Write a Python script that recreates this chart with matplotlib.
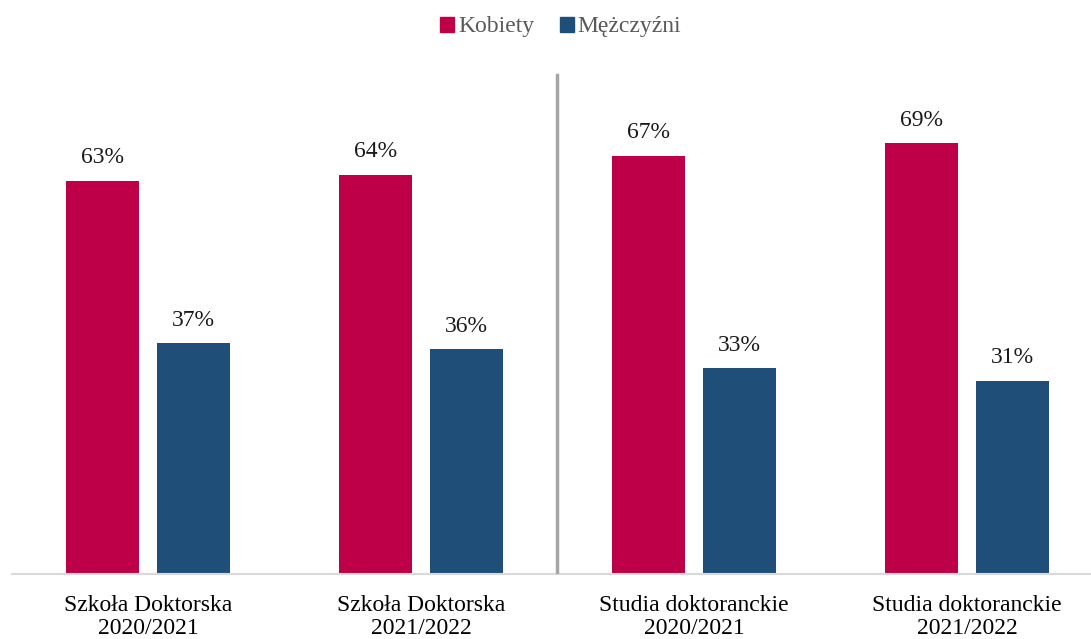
import matplotlib
matplotlib.use("Agg")
import matplotlib.pyplot as plt
from matplotlib.patches import Patch
import numpy as np

categories = ["Szkoła Doktorska\n2020/2021", "Szkoła Doktorska\n2021/2022",
              "Studia doktoranckie\n2020/2021", "Studia doktoranckie\n2021/2022"]
series_names = ["Kobiety", "Mężczyźni"]
kobiety = [63, 64, 67, 69]
mezczyzni = [37, 36, 33, 31]
colors = ["#BE0048", "#1F4E79"]

plt.rcParams['font.family'] = ['Liberation Serif', 'DejaVu Serif']

fig = plt.figure(figsize=(10.91, 6.39), dpi=100)
ax = fig.add_axes([11.5/1091, 65/639, 1079.5/1091, 574/639])

x = np.arange(len(categories))
w = 73/273
off = 45.5/273
b1 = ax.bar(x - off, kobiety, w, color=colors[0], zorder=2)
b2 = ax.bar(x + off, mezczyzni, w, color=colors[1], zorder=2)
for bars, vals in ((b1, kobiety), (b2, mezczyzni)):
    for r, v in zip(bars, vals):
        ax.annotate(f"{v}%", (r.get_x() + r.get_width()/2, v), xytext=(0, 9),
                    textcoords="offset points", ha="center", va="bottom",
                    fontsize=17, color="#1a1a1a")

ax.set_xlim(-0.5, -0.5 + 1079.5/273)
ax.set_ylim(0, 574/6.24)
ax.set_xticks(x)
ax.set_xticklabels(categories, fontsize=17, color="#000000", linespacing=1.15)
ax.tick_params(axis='x', length=0, pad=15)
ax.set_yticks([])
for s in ["top", "right", "left"]:
    ax.spines[s].set_visible(False)
ax.spines["bottom"].set_color("#D9D9D9")
ax.spines["bottom"].set_linewidth(1.5)
ax.axvline(1.5, ymin=0, ymax=80/(574/6.24), color="#A6A6A6", linewidth=2.5, zorder=3)

handles = [Patch(color=c) for c in colors]
fig.legend(handles, series_names, loc="center", bbox_to_anchor=(0.514, 0.958), ncol=2,
           frameon=False, fontsize=17, labelcolor="#595959", handlelength=0.6,
           handleheight=0.6, handletextpad=0.15, columnspacing=1.1)

fig.savefig("out.png", dpi=100)
